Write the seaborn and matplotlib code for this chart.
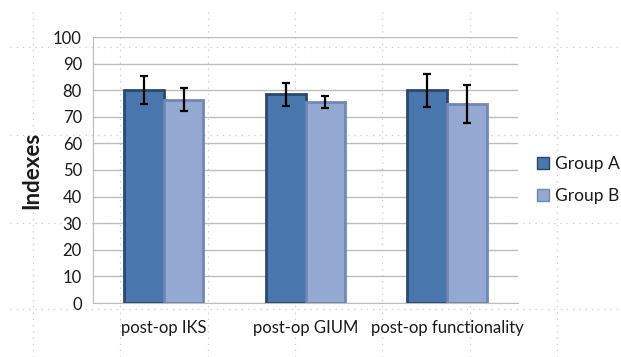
import numpy as np
import pandas as pd
import matplotlib
matplotlib.use("Agg")
import matplotlib.pyplot as plt
import seaborn as sns
from matplotlib.lines import Line2D

categories = ["post-op IKS", "post-op GIUM", "post-op functionality"]
groups = ["Group A", "Group B"]
group_a = [80.0, 78.5, 80.0]
group_b = [76.5, 75.7, 74.8]
err_a = [5.2, 4.3, 6.2]
err_b = [4.5, 2.3, 7.3]

colors = {"Group A": "#4A76AE", "Group B": "#93A9D2"}
edges = {"Group A": "#2B4770", "Group B": "#7188B6"}

df = pd.DataFrame({
    "category": categories * 2,
    "group": [groups[0]] * 3 + [groups[1]] * 3,
    "value": group_a + group_b,
    "err": err_a + err_b,
})

sns.set_style("white")
plt.rcParams["font.family"] = ["Lato", "DejaVu Sans"]
plt.rcParams["text.color"] = "#1a1a1a"
plt.rcParams["axes.labelcolor"] = "#1a1a1a"
plt.rcParams["xtick.color"] = "#1a1a1a"
plt.rcParams["ytick.color"] = "#1a1a1a"

fig = plt.figure(figsize=(6.21, 3.57), dpi=100)

# faint dotted slide grid in the background
bg = fig.add_axes([0, 0, 1, 1], zorder=0)
bg.set_xlim(0, 621)
bg.set_ylim(357, 0)
bg.axis("off")
for x in [33, 120, 208, 295, 382, 470, 557]:
    bg.axvline(x, ymin=0, ymax=1 - 12 / 357, color="#c8c8c8", lw=0.9, ls=(0, (1, 4)))
for y in [47, 135, 223, 309]:
    bg.axhline(y, xmin=10 / 621, xmax=1, color="#c8c8c8", lw=0.9, ls=(0, (1, 4)))

ax = fig.add_axes([93 / 621, 1 - 303 / 357, 425 / 621, 266 / 357], zorder=1)
ax.patch.set_alpha(0)

sns.barplot(data=df, x="category", y="value", hue="group", order=categories,
            hue_order=groups, palette=colors, saturation=1, width=0.56,
            errorbar=None, ax=ax, legend=False, zorder=3)

# bevel-ish edges and error bars
for container, g in zip(ax.containers, groups):
    sub = df[df["group"] == g].set_index("category").loc[categories]
    for bar in container:
        bar.set_edgecolor(edges[g])
        bar.set_linewidth(2)
    xs = [b.get_x() + b.get_width() / 2 for b in container]
    ax.errorbar(xs, sub["value"], yerr=sub["err"], fmt="none", ecolor="black",
                elinewidth=1.6, capsize=3, capthick=1.6, zorder=5)

ax.set_ylim(0, 100)
ax.set_xlim(-0.5, 2.5)
ax.set_yticks(range(0, 101, 10))
ax.yaxis.grid(True, color="#bdbdbd", lw=1)
ax.set_axisbelow(True)
for s in ["top", "right"]:
    ax.spines[s].set_visible(False)
ax.spines["left"].set_color("#bdbdbd")
ax.spines["bottom"].set_color("#bdbdbd")
ax.tick_params(axis="y", length=4, color="#bdbdbd", labelsize=12, pad=4)
ax.tick_params(axis="x", length=0, labelsize=12, pad=12)
ax.set_xlabel("")
ax.set_ylabel("Indexes", fontsize=16, fontweight="bold", labelpad=8)

handles = [Line2D([], [], marker="s", ls="none", markersize=8,
                  markerfacecolor=colors[g], markeredgecolor=edges[g]) for g in groups]
fig.legend(handles, groups, loc="center left", bbox_to_anchor=(536 / 621, 1 - 180 / 357),
           frameon=False, fontsize=12.5, handletextpad=0.3, labelspacing=0.9,
           handlelength=0.8, borderpad=0, borderaxespad=0)

fig.savefig("out.png", dpi=100)
